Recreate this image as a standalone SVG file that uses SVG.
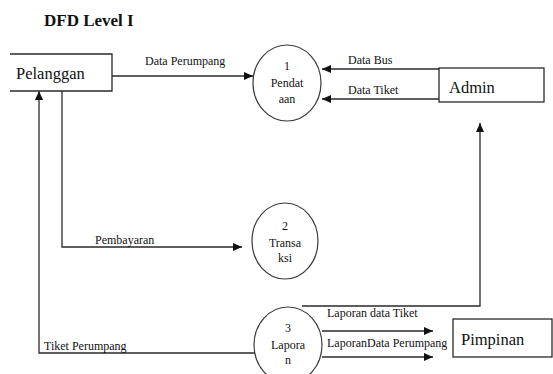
<svg xmlns="http://www.w3.org/2000/svg" width="553" height="374" viewBox="0 0 553 374" font-family="'Liberation Serif', 'Times New Roman', serif">
<style>
text{font-family:'Liberation Serif','Times New Roman',serif;fill:#111}
.t{font-size:12px}
.big{font-size:16.5px}
.c{text-anchor:middle}
.ln{fill:none;stroke:#2a2a2a;stroke-width:1.3}
.box{fill:#fff;stroke:#2a2a2a;stroke-width:1.3}
.proc{fill:#fff;stroke:#3a3a3a;stroke-width:1.2}
</style>
<defs>
<marker id="ah" markerUnits="userSpaceOnUse" markerWidth="10" markerHeight="8" refX="9" refY="4" orient="auto">
<path d="M0,0 L9,4 L0,8 Z" fill="#111"/>
</marker>
</defs>
<rect width="553" height="374" fill="#fff"/>
<text x="44" y="26" style="font-size:17px;font-weight:bold">DFD Level I</text>

<g id="connectors">
<path class="ln" d="M112,76 H253" marker-end="url(#ah)"/>
<text class="t" x="145" y="65">Data Perumpang</text>
<path class="ln" d="M439,69 H322" marker-end="url(#ah)"/>
<text class="t" x="348" y="64">Data Bus</text>
<path class="ln" d="M439,99 H322" marker-end="url(#ah)"/>
<text class="t" x="348" y="94">Data Tiket</text>
<path class="ln" d="M62,91 V247 H242" marker-end="url(#ah)"/>
<text class="t" x="95" y="244">Pembayaran</text>
<path class="ln" d="M255,353 H39 V91" stroke="#555" marker-end="url(#ah)"/>
<text class="t" x="44" y="350">Tiket Perumpang</text>
<path class="ln" d="M302,306 H480 V123" marker-end="url(#ah)"/>
<path class="ln" d="M322,331 H433" marker-end="url(#ah)"/>
<text class="t" x="327" y="317">Laporan data Tiket</text>
<path class="ln" d="M322,357 H433" marker-end="url(#ah)"/>
<text class="t" x="327" y="347">LaporanData Perumpang</text>
</g>

<g id="pelanggan">
<path class="box" d="M10,54 H112 V91 H10"/>
<text class="big" x="16" y="79">Pelanggan</text>
</g>

<g id="admin">
<rect class="box" x="439" y="68" width="105" height="34"/>
<text class="big" x="449" y="93">Admin</text>
</g>

<g id="pimpinan">
<rect class="box" x="453" y="319" width="99" height="38"/>
<text class="big" x="461" y="345">Pimpinan</text>
</g>

<g id="proc1">
<ellipse class="proc" cx="287" cy="83" rx="34" ry="38"/>
<text class="t c" x="287" y="70">1</text>
<text class="t c" x="287" y="87">Pendat</text>
<text class="t c" x="287" y="103">aan</text>
</g>

<g id="proc2">
<ellipse class="proc" cx="285" cy="241" rx="33" ry="38"/>
<text class="t c" x="285" y="230">2</text>
<text class="t c" x="285" y="247">Transa</text>
<text class="t c" x="285" y="262">ksi</text>
</g>

<g id="proc3">
<ellipse class="proc" cx="288" cy="345" rx="34" ry="38"/>
<text class="t c" x="288" y="332">3</text>
<text class="t c" x="288" y="349">Lapora</text>
<text class="t c" x="288" y="364">n</text>
</g>
</svg>
